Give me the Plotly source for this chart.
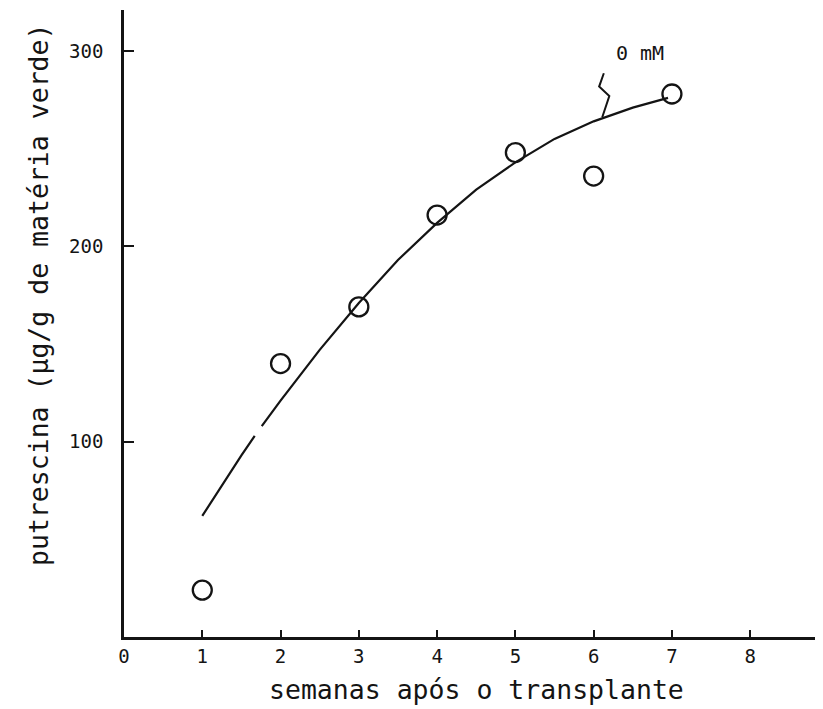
import plotly.graph_objects as go

# measured points
semanas = [1, 2, 3, 4, 5, 6, 7]
putrescina = [24, 140, 169, 216, 248, 236, 278]

# fitted curve (gap in the drawn line near week 1.7)
curva_x = [1.0, 1.3, 1.5, 1.67, None, 1.76, 2.0, 2.5, 3.0, 3.5, 4.0, 4.5, 5.0, 5.5, 6.0, 6.5, 6.95]
curva_y = [62, 81, 93, 103, None, 108, 121, 147, 171, 193, 212, 229, 243, 255, 264, 271, 276]

x_ticks = [0, 1, 2, 3, 4, 5, 6, 7, 8]
y_ticks = [100, 200, 300]

# squiggle pointing from the label to the curve
seta_x = [6.13, 6.07, 6.20, 6.11]
seta_y = [288.6, 281.8, 277.0, 266.1]

ink = "#141414"
mono = "DejaVu Sans Mono"

# page body adds an 8px offset; compensate so the plot lands where the reference has it
OFF = 8
W, H = 823 - OFF, 709 - OFF
L, T = 124 - OFF, 10 - OFF
PB = 637 - OFF  # pixel (figure coords) of the x axis
B = H - PB
PW, PH = W - L, PB - T

fig = go.Figure()
fig.add_trace(go.Scatter(x=curva_x, y=curva_y, mode="lines",
                         line=dict(color=ink, width=2.2), connectgaps=False,
                         showlegend=False, hoverinfo="skip"))
fig.add_trace(go.Scatter(x=semanas, y=putrescina, mode="markers",
                         marker=dict(symbol="circle-open", size=19, color=ink,
                                     line=dict(color=ink, width=2.3)),
                         showlegend=False))
fig.add_trace(go.Scatter(x=seta_x, y=seta_y, mode="lines",
                         line=dict(color=ink, width=2), showlegend=False,
                         hoverinfo="skip"))

fig.add_annotation(x=6.59, y=299, text="0 mM", showarrow=False,
                   xanchor="center", yanchor="middle",
                   font=dict(family=mono, size=20, color=ink))
fig.add_annotation(xref="x domain", yref="y domain",
                   x=(477 - 124) / PW, y=-(689 - 637) / PH,
                   xanchor="center", yanchor="middle",
                   text="semanas após o transplante",
                   showarrow=False, font=dict(family=mono, size=26.5, color=ink))
fig.add_annotation(xref="x domain", yref="y domain",
                   x=-(124 - 38) / PW, y=(637 - 295) / PH,
                   xanchor="center", yanchor="middle",
                   text="putrescina (µg/g de matéria verde)", textangle=-90,
                   showarrow=False, font=dict(family=mono, size=26.5, color=ink))

fig.update_xaxes(range=[0, 8.93], tickvals=x_ticks, ticktext=[str(v) for v in x_ticks],
                 ticks="inside", ticklen=7, tickwidth=2, tickcolor=ink,
                 showline=True, linecolor=ink, linewidth=2.5, showgrid=False,
                 zeroline=False, tickfont=dict(family=mono, size=19, color=ink))
fig.update_yaxes(range=[0, 321], tickvals=y_ticks, ticktext=[str(v) for v in y_ticks],
                 ticks="inside", ticklen=10, tickwidth=2, tickcolor=ink,
                 showline=True, linecolor=ink, linewidth=2.5, showgrid=False,
                 zeroline=False, ticklabelstandoff=14,
                 tickfont=dict(family=mono, size=19, color=ink))

fig.update_layout(width=W, height=H, margin=dict(l=L, r=0, t=T, b=B),
                  paper_bgcolor="white", plot_bgcolor="white")

fig.write_html("out.html")
